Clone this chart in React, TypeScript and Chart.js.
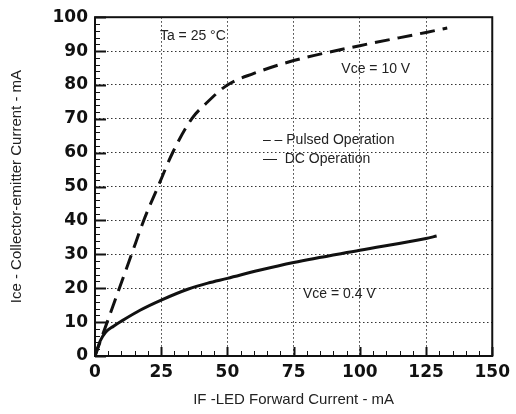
import React, { useEffect, useRef } from 'react';
import { Chart, registerables } from 'chart.js';

Chart.register(...registerables);

// Pulsed operation, Vce = 10 V (dashed)
const pulsedIF = [0, 4.6, 9.2, 13.8, 18.4, 23.8, 29.3, 36.5, 42, 50, 60, 75, 100, 125, 133];
const pulsedIce = [0, 10, 20, 30, 40, 50, 60, 70, 74.6, 80, 83.4, 87.2, 91.6, 95.5, 96.8];

// DC operation, Vce = 0.4 V (solid)
const dcIF = [0, 2, 4, 7, 10, 17, 25, 35, 42.6, 50, 62, 75, 100, 125, 129];
const dcIce = [0, 4.5, 7, 8.8, 10.3, 13.5, 16.5, 19.7, 21.5, 22.9, 25.3, 27.6, 31.2, 34.7, 35.4];

const xTickValues = [0, 25, 50, 75, 100, 125, 150];
const yTickValues = [0, 10, 20, 30, 40, 50, 60, 70, 80, 90, 100];

const noteTexts = ['Ta = 25 °C', 'Vce = 10 V', '– – Pulsed Operation', '—  DC Operation', 'Vce = 0.4 V'];
const noteX = [24.5, 93, 63.4, 63.4, 78.5];
const noteY = [94.5, 84.8, 63.8, 58, 18.4];

const xTitle = 'IF -LED Forward Current - mA';
const yTitle = 'Ice - Collector-emitter Current - mA';

const INK = '#111';

const decorPlugin = {
  id: 'decor',
  afterDraw(chart: any) {
    const { ctx, chartArea } = chart;
    const xs = chart.scales.x;
    const ys = chart.scales.y;
    ctx.save();
    // frame
    ctx.strokeStyle = INK;
    ctx.lineWidth = 2;
    ctx.strokeRect(chartArea.left, chartArea.top, chartArea.right - chartArea.left, chartArea.bottom - chartArea.top);
    // minor / major ticks on y
    for (let v = 0; v <= 100; v += 2) {
      const py = Math.round(ys.getPixelForValue(v)) + 0.5;
      const major = v % 10 === 0;
      ctx.lineWidth = major ? 2 : 1;
      ctx.beginPath();
      ctx.moveTo(chartArea.left, py);
      ctx.lineTo(chartArea.left + (major ? 11 : 5), py);
      ctx.stroke();
    }
    // minor / major ticks on x
    for (let v = 0; v <= 150; v += 5) {
      const px = Math.round(xs.getPixelForValue(v)) + 0.5;
      const major = v % 25 === 0;
      ctx.lineWidth = major ? 2 : 1;
      ctx.beginPath();
      ctx.moveTo(px, chartArea.bottom);
      ctx.lineTo(px, chartArea.bottom - (major ? 9 : 5));
      ctx.stroke();
    }
    // notes
    ctx.fillStyle = '#222';
    ctx.font = '14px "Liberation Sans", Arial, sans-serif';
    ctx.textBaseline = 'middle';
    ctx.textAlign = 'left';
    for (let i = 0; i < noteTexts.length; i++) {
      ctx.fillText(noteTexts[i], xs.getPixelForValue(noteX[i]), ys.getPixelForValue(noteY[i]));
    }
    ctx.restore();
  },
};

export default function App() {
  const ref = useRef<HTMLCanvasElement | null>(null);

  useEffect(() => {
    document.body.style.margin = '0';
    const canvas = ref.current;
    if (!canvas) return;
    const chart = new Chart(canvas, {
      type: 'line',
      data: {
        datasets: [
          {
            label: 'Pulsed Operation',
            data: pulsedIF.map((x, i) => ({ x, y: pulsedIce[i] })),
            borderColor: INK,
            borderWidth: 3,
            borderDash: [15, 8],
            pointRadius: 0,
            fill: false,
            cubicInterpolationMode: 'monotone',
          },
          {
            label: 'DC Operation',
            data: dcIF.map((x, i) => ({ x, y: dcIce[i] })),
            borderColor: INK,
            borderWidth: 3,
            pointRadius: 0,
            fill: false,
            cubicInterpolationMode: 'monotone',
          },
        ],
      },
      options: {
        animation: false,
        responsive: false,
        maintainAspectRatio: false,
        layout: { padding: { top: 13, right: 23, left: 0, bottom: 0 } },
        plugins: { legend: { display: false }, tooltip: { enabled: false } },
        scales: {
          x: {
            type: 'linear',
            min: 0,
            max: 150,
            afterBuildTicks: (scale: any) => {
              scale.ticks = xTickValues.map((value) => ({ value }));
            },
            afterFit: (scale: any) => {
              scale.height = 58;
            },
            ticks: {
              padding: 6,
              color: INK,
              font: { family: '"DejaVu Sans", sans-serif', weight: 'bold', size: 17 },
              maxRotation: 0,
            },
            grid: { color: '#333', lineWidth: 1, drawTicks: false },
            border: { display: false, dash: [1.5, 2.5] },
            title: {
              display: true,
              text: xTitle,
              color: '#222',
              font: { family: '"Liberation Sans", Arial, sans-serif', size: 15 },
              padding: { top: 0, bottom: 5 },
            },
          },
          y: {
            type: 'linear',
            min: 0,
            max: 100,
            afterBuildTicks: (scale: any) => {
              scale.ticks = yTickValues.map((value) => ({ value }));
            },
            afterFit: (scale: any) => {
              scale.width = 95;
            },
            ticks: {
              padding: 7,
              color: INK,
              font: { family: '"DejaVu Sans", sans-serif', weight: 'bold', size: 17 },
            },
            grid: { color: '#333', lineWidth: 1, drawTicks: false },
            border: { display: false, dash: [1.5, 2.5] },
            title: {
              display: true,
              text: yTitle,
              color: '#222',
              font: { family: '"Liberation Sans", Arial, sans-serif', size: 15 },
              padding: { top: 8, bottom: 0 },
            },
          },
        },
      },
      plugins: [decorPlugin],
    } as any);
    return () => chart.destroy();
  }, []);

  return (
    <div style={{ width: 516, height: 414, background: '#fff' }}>
      <canvas ref={ref} width={516} height={414} style={{ display: 'block' }} />
    </div>
  );
}
